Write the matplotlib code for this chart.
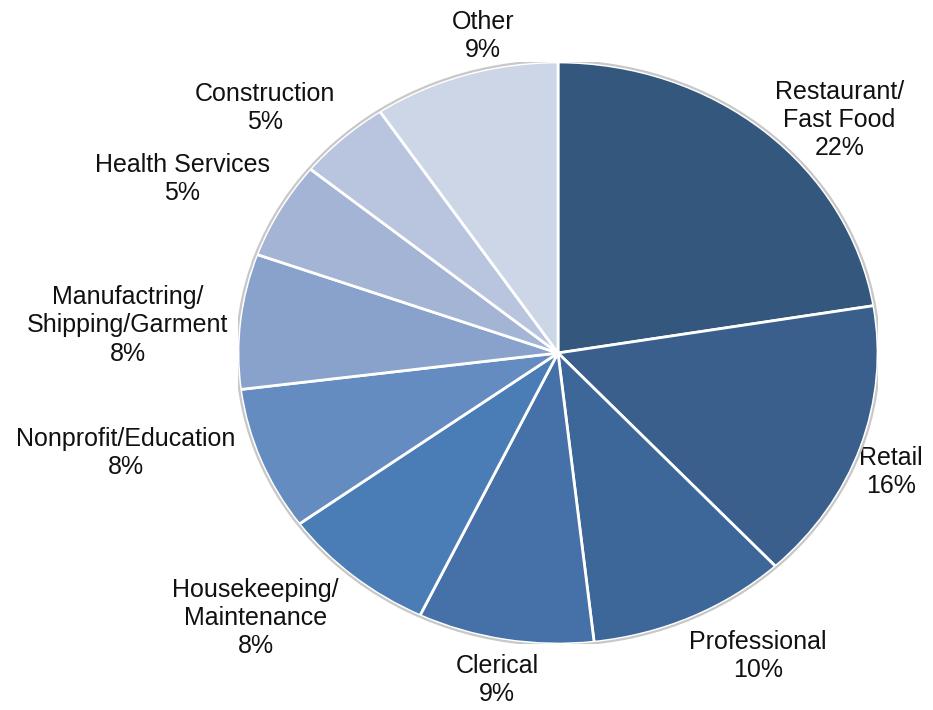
import matplotlib.pyplot as plt
from matplotlib.patches import Circle

plt.rcParams["font.family"] = ["Liberation Sans", "DejaVu Sans"]

# shares; printed labels are the rounded values
categories = ["Restaurant/\nFast Food", "Retail", "Professional", "Clerical",
              "Housekeeping/\nMaintenance", "Nonprofit/Education",
              "Manufactring/\nShipping/Garment", "Health Services",
              "Construction", "Other"]
shares = [22.4, 15.7, 10.1, 8.9, 7.9, 8.0, 7.5, 5.4, 4.7, 9.4]
pct_labels = ["22%", "16%", "10%", "9%", "8%", "8%", "8%", "5%", "5%", "9%"]

colors = ["#34577e", "#3a5f8d", "#3e6799", "#4571a8", "#4a7cb6",
          "#658cc0", "#88a2cb", "#a3b4d5", "#b9c5de", "#cdd6e7"]

# label centres, in pie-radius units (layout only)
label_pos = [(0.88, 0.80), (1.04, -0.41), (0.625, -1.04), (-0.19, -1.125),
             (-0.945, -0.91), (-1.35, -0.345), (-1.345, 0.095),
             (-1.175, 0.598), (-0.915, 0.843), (-0.235, 1.09)]

W, H = 933, 710
cx, cy, rx, ry = 558, 353, 320, 291

fig = plt.figure(figsize=(W / 100, H / 100), dpi=100, facecolor="white")
ax = fig.add_axes([(cx - rx) / W, (H - cy - ry) / H, 2 * rx / W, 2 * ry / H])

ax.pie(shares, colors=colors, startangle=90, counterclock=False,
       wedgeprops=dict(edgecolor="white", linewidth=2))
ax.add_patch(Circle((0, 0), 1.004, fill=False, edgecolor="#c8c8c8",
                    linewidth=1.6, zorder=5))

for name, pct, (x, y) in zip(categories, pct_labels, label_pos):
    ax.text(x, y, f"{name}\n{pct}", ha="center", va="center",
            fontsize=18, color="#111111", linespacing=1.22)

ax.set_aspect("auto")
ax.set_xlim(-1, 1)
ax.set_ylim(-1, 1)
ax.axis("off")

plt.savefig("out.png", dpi=100, facecolor="white")
